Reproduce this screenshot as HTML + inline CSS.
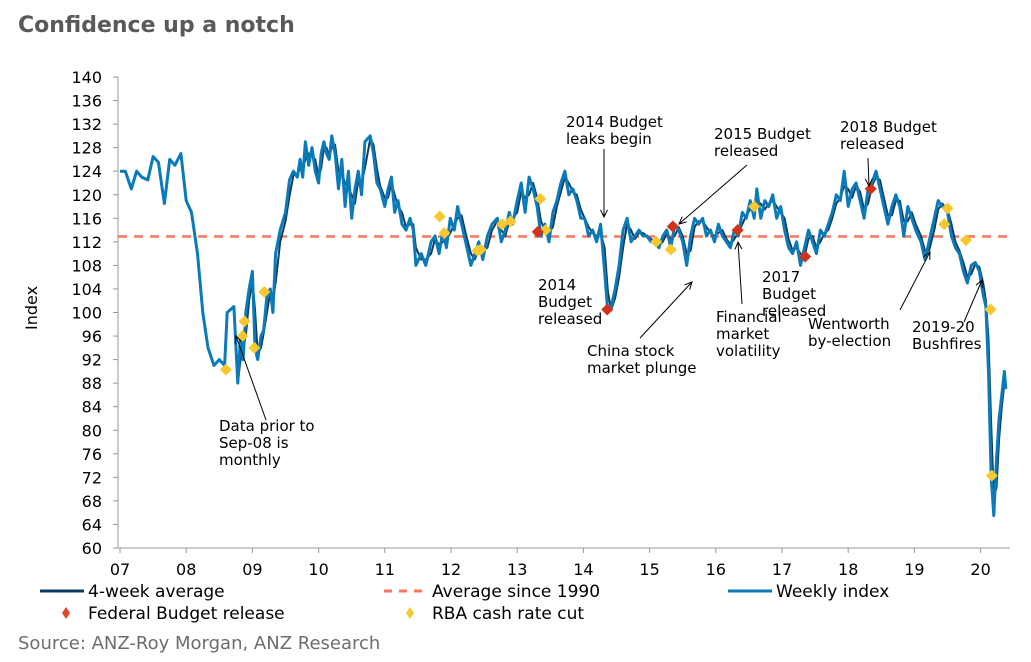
<!DOCTYPE html>
<html><head><meta charset="utf-8"><style>
body{margin:0;background:#fff;width:1031px;height:662px;overflow:hidden;font-family:"DejaVu Sans","Liberation Sans",sans-serif;}
svg{position:absolute;left:0;top:0}
</style></head><body>
<svg id="chart" width="1031" height="662" xmlns="http://www.w3.org/2000/svg"></svg>
<script>
const yTicks=[60,64,68,72,76,80,84,88,92,96,100,104,108,112,116,120,124,128,132,136,140];
const xTickLabels=["07","08","09","10","11","12","13","14","15","16","17","18","19","20"];
const xTickYears=[2007,2008,2009,2010,2011,2012,2013,2014,2015,2016,2017,2018,2019,2020];
const avgSince1990=112.9;
const dates=[2007.0,2007.08,2007.17,2007.25,2007.33,2007.42,2007.5,2007.58,2007.67,2007.75,2007.83,2007.92,2008.0,2008.08,2008.17,2008.25,2008.33,2008.42,2008.5,2008.58,2008.62,2008.72,
2008.78,2008.82,2008.86,2008.9,2008.95,2009.0,2009.04,2009.08,2009.13,2009.17,2009.22,2009.27,2009.31,2009.35,2009.42,2009.5,2009.56,2009.62,2009.68,2009.72,2009.76,2009.8,2009.85,2009.9,2009.95,2010.0,2010.04,2010.08,2010.12,2010.16,2010.2,2010.25,2010.3,2010.35,2010.4,2010.45,2010.5,2010.55,2010.6,2010.65,2010.7,2010.78,2010.83,2010.88,2010.93,2011.0,2011.05,2011.1,2011.15,2011.2,2011.26,2011.32,2011.38,2011.43,2011.47,2011.55,2011.62,2011.7,2011.76,2011.82,2011.88,2011.93,2011.99,2012.05,2012.1,2012.16,2012.22,2012.3,2012.36,2012.42,2012.48,2012.55,2012.62,2012.7,2012.76,2012.82,2012.88,2012.93,2013.0,2013.06,2013.12,2013.18,2013.24,2013.3,2013.36,2013.42,2013.48,2013.54,2013.6,2013.66,2013.72,2013.78,2013.84,2013.9,2013.96,2014.02,2014.08,2014.14,2014.2,2014.26,2014.32,2014.37,2014.42,2014.48,2014.54,2014.6,2014.66,2014.72,2014.78,2014.84,2014.9,2014.96,2015.02,2015.08,2015.14,2015.2,2015.26,2015.32,2015.38,2015.44,2015.5,2015.56,2015.62,2015.68,2015.74,2015.8,2015.86,2015.92,2015.98,2016.04,2016.1,2016.16,2016.22,2016.28,2016.34,2016.4,2016.46,2016.52,2016.58,2016.62,2016.68,2016.74,2016.8,2016.86,2016.92,2016.98,2017.04,2017.1,2017.16,2017.22,2017.28,2017.34,2017.4,2017.46,2017.52,2017.58,2017.64,2017.7,2017.76,2017.82,2017.88,2017.94,2018.0,2018.06,2018.12,2018.18,2018.24,2018.3,2018.36,2018.42,2018.48,2018.54,2018.6,2018.66,2018.72,2018.78,2018.84,2018.9,2018.96,2019.02,2019.1,2019.16,2019.22,2019.3,2019.36,2019.42,2019.5,2019.56,2019.62,2019.68,2019.74,2019.8,2019.86,2019.92,2019.98,2020.04,2020.08,2020.12,2020.16,2020.2,2020.24,2020.28,2020.32,2020.36,2020.38];
const weekly=[124,124,121,124,123,122.5,126.5,125.5,118.5,126,125,127,119,117,110,100,94,91,92,91,100,101,
88,96,92,100,104,107,94,92,96,97,103,104,100,110,114,117,122.5,124,123,126,123,129,125,128,124,122,127,129,127,126,130,127,121,126,118,124,116,121,124,120,129,130,127,122,121,118,121,123,117,119,115,114,116,114,108,110,108,112,113,110,114,111,116,114,118,115,112,108,110,112,109,113,115,116,112,114,117,115,119,122,117,123,121,118,113,115,112,117,119,122,124,120,121,119,116,116,113,114,112,115,107,100,101,104,108,114,116,112,113,114,113,113,112,112,111,113,114,111,115,114,112,108,113,116,115,116,113,114,112,115,113,112,111,114,113,117,116,119,116,121,116,119,118,120,116,118,114,111,110,112,108,111,114,112,110,114,113,115,117,120,119,124,118,121,122,119,116,121,122,124,121,118,115,118,120,118,113,118,116,114,112,109,112,116,119,118,117,113,111,110,107,105,108,108.5,107,103,101,90,72,65.5,75,82,86,90,87];
const cutDates=[2008.6,2008.85,2008.88,2009.03,2009.18,2011.83,2011.9,2012.4,2012.45,2012.77,2012.9,2013.35,2013.43,2015.1,2015.32,2016.33,2016.58,2019.45,2019.5,2019.78,2020.15,2020.17];
const cutValues=[90.3,96,98.5,94,103.5,116.3,113.5,110.5,110.7,115,115.5,119.3,114,112,110.7,114,118,115,117.7,112.3,100.5,72.3];
const budgetDates=[2013.31,2014.36,2015.35,2016.33,2017.35,2018.34];
const budgetValues=[113.7,100.5,114.6,114,109.5,121];

const NS="http://www.w3.org/2000/svg";
const svg=document.getElementById('chart');
const X0=120,PX=66.2,Y0=548,PY=5.8875;
function xs(yr){return X0+(yr-2007)*PX;}
function ys(v){return Y0-(v-60)*PY;}
function mk(tag,attrs,parent){const e=document.createElementNS(NS,tag);for(const k in attrs)e.setAttribute(k,attrs[k]);(parent||svg).appendChild(e);return e;}
function txt(x,y,s,attrs){const t=mk('text',Object.assign({x:x,y:y},attrs||{}));t.textContent=s;return t;}

const title=txt(18,32,"Confidence up a notch",{'font-size':22,'font-weight':'bold',fill:'#595959'});



const yAxis=mk('line',{x1:118,y1:77,x2:118,y2:548,stroke:'#999','stroke-width':1});


yTicks.forEach(v=>{
  mk('line',{x1:113,x2:118,y1:ys(v),y2:ys(v),stroke:'#999'});
  const t=txt(102,ys(v)+6,String(v),{'font-size':16,'text-anchor':'end',fill:'#000'});
  
  
});
const xAxis=mk('line',{x1:118,y1:548,x2:1010,y2:548,stroke:'#999'});


xTickYears.forEach((yr,i)=>{
  mk('line',{x1:xs(yr),x2:xs(yr),y1:548,y2:553,stroke:'#999'});
  const t=txt(xs(yr),575,xTickLabels[i],{'font-size':16,'text-anchor':'middle',fill:'#000'});
  
  
});
const yt=txt(0,0,"Index",{'font-size':16,fill:'#000',transform:'translate(37,330) rotate(-90)'});



const avg=mk('line',{x1:118,x2:1010,y1:ys(avgSince1990),y2:ys(avgSince1990),stroke:'#F4775E','stroke-width':2.5,'stroke-dasharray':'9,7'});



function pathOf(vals){return vals.map((v,i)=>(i?'L':'M')+xs(dates[i]).toFixed(1)+','+ys(v).toFixed(1)).join('');}
const ma=weekly.map((v,i)=>{if(i<22)return v;const s=weekly.slice(Math.max(22,i-1),i+1);return s.reduce((a,b)=>a+b,0)/s.length;});
const avg4=mk('path',{d:pathOf(ma),fill:'none',stroke:'#0B3A5E','stroke-width':2,'stroke-linejoin':'round'});


const wk=mk('path',{d:pathOf(weekly),fill:'none',stroke:'#0B7AB8','stroke-width':3,'stroke-linejoin':'round'});



function diamond(x,y,c,r){return mk('path',{d:`M${x},${y-r}L${x+r},${y}L${x},${y+r}L${x-r},${y}Z`,fill:c});}
cutDates.forEach((d,i)=>{
  const e=diamond(xs(d),ys(cutValues[i]),'#F9C831',6);
  
  
});
budgetDates.forEach((d,i)=>{
  const e=diamond(xs(d),ys(budgetValues[i]),'#D2321A',6);
  
  
});

const notes=[
 [["Data prior to","Sep-08 is","monthly"],219,431,[266,420,236,336]],
 [["2014 Budget","leaks begin"],566,127,[604,149,604,217]],
 [["2015 Budget","released"],714,139,[747,165,679,224]],
 [["2018 Budget","released"],840,132,[868,158,869,186]],
 [["2014","Budget","released"],538,290,null],
 [["China stock","market plunge"],587,356,[640,338,692,282]],
 [["Financial","market","volatility"],716,322,[742,304,738,242]],
 [["2017","Budget","released"],762,282,null],
 [["Wentworth","by-election"],808,329,[900,310,930,252]],
 [["2019-20","Bushfires"],912,332,[964,322,982,280]]
];
notes.forEach(n=>{
  n[0].forEach((s,j)=>{
    const t=txt(n[1],n[2]+j*17,s,{'font-size':15,fill:'#000'});
    
    
  });
  if(n[3]){
    const [x1,y1,x2,y2]=n[3];
    const l=mk('line',{x1,y1,x2,y2,stroke:'#000','stroke-width':1});
    
    
    const a=Math.atan2(y2-y1,x2-x1),h=8;
    mk('path',{d:`M${x2-h*Math.cos(a-0.45)},${y2-h*Math.sin(a-0.45)}L${x2},${y2}L${x2-h*Math.cos(a+0.45)},${y2-h*Math.sin(a+0.45)}`,fill:'none',stroke:'#000','stroke-width':1});
  }
});

function leg(name,x,y,label,kind,color){
  const g=mk('g',{});
  
  
  if(kind==='line')mk('line',{x1:x-48,x2:x-4,y1:y-6,y2:y-6,stroke:color,'stroke-width':3},g);
  else if(kind==='dash')mk('line',{x1:x-48,x2:x-4,y1:y-6,y2:y-6,stroke:color,'stroke-width':3,'stroke-dasharray':'8,7'},g);
  else mk('path',{d:`M${x-22},${y-12}L${x-18},${y-6}L${x-22},${y}L${x-26},${y-6}Z`,fill:color},g);
  const t=mk('text',{x:x,y:y,'font-size':17,fill:'#000'},g);t.textContent=label;
}
leg('legend-4-week-average',88,597,'4-week average','line','#0B3A5E');
leg('legend-average-since-1990',432,597,'Average since 1990','dash','#F4775E');
leg('legend-weekly-index',776,597,'Weekly index','line','#0B7AB8');
leg('legend-federal-budget',88,619,'Federal Budget release','dia','#E8442A');
leg('legend-rba-cut',432,619,'RBA cash rate cut','dia','#F9C831');
const src=txt(18,649,"Source: ANZ-Roy Morgan, ANZ Research",{'font-size':18,fill:'#6d6d6d'});


</script>
</body></html>
